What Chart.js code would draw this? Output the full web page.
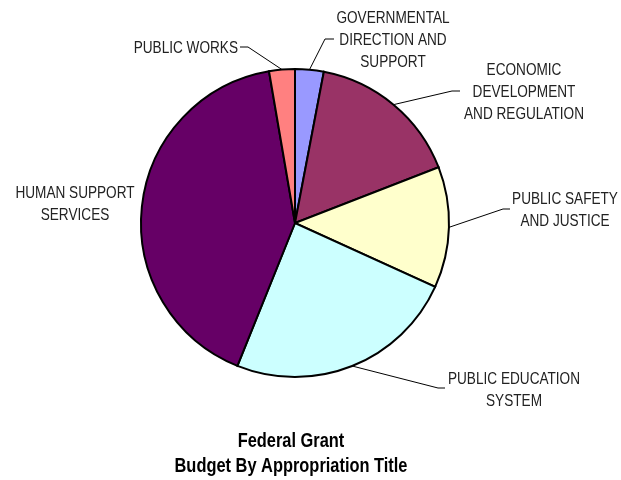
<!DOCTYPE html>
<html>
<head>
<meta charset="utf-8">
<title>Federal Grant Budget By Appropriation Title</title>
<script src="https://cdn.jsdelivr.net/npm/chart.js@4/dist/chart.umd.min.js"></script>
<style>
  html, body { margin: 0; padding: 0; background: #ffffff; }
  #wrap { width: 621px; height: 480px; }
</style>
</head>
<body>
<div id="wrap"><canvas id="pie" width="621" height="480"></canvas></div>
<script>
// Appropriation titles (label lines) and their share of the federal grant budget (%)
const categories = [
  ['GOVERNMENTAL', 'DIRECTION AND', 'SUPPORT'],
  ['ECONOMIC', 'DEVELOPMENT', 'AND REGULATION'],
  ['PUBLIC SAFETY', 'AND JUSTICE'],
  ['PUBLIC EDUCATION', 'SYSTEM'],
  ['HUMAN SUPPORT', 'SERVICES'],
  ['PUBLIC WORKS']
];
const shares = [3.0, 16.1, 12.7, 24.3, 41.2, 2.7];
const sliceColors = ['#9999FF', '#993366', '#FFFFCC', '#CCFFFF', '#660066', '#FF8080'];
const titleLines = ['Federal Grant', 'Budget By Appropriation Title'];

const FONT = '"Liberation Sans", Arial, sans-serif';
const NARROW = 0.82;   // horizontal squeeze for a condensed sans look

// Where each label sits: text anchor x, first baseline, alignment,
// and the elbow / end of its leader line (null = no leader).
const labelPlacement = [
  { x: 393, y: 23,  align: 'center', elbow: [325, 39],  end: [334, 39] },
  { x: 524, y: 75,  align: 'center', elbow: [452, 91],  end: [460, 91] },
  { x: 565, y: 204, align: 'center', elbow: [503, 209], end: [510, 209] },
  { x: 514, y: 384, align: 'center', elbow: [438, 388], end: [445, 388] },
  { x: 75,  y: 198, align: 'center', elbow: null, end: null },
  { x: 238, y: 53,  align: 'right',  elbow: [248, 47],  end: [240, 47] }
];
const LINE_H = 22;

function narrowText(ctx, text, x, y) {
  ctx.save();
  ctx.translate(x, y);
  ctx.scale(NARROW, 1);
  ctx.fillText(text, 0, 0);
  ctx.restore();
}

const sliceLabels = {
  id: 'sliceLabels',
  afterDraw(chart) {
    const ctx = chart.ctx;
    const arcs = chart.getDatasetMeta(0).data;
    ctx.save();
    ctx.font = '16.6px ' + FONT;
    ctx.fillStyle = '#222222';
    ctx.strokeStyle = '#000000';
    ctx.lineWidth = 1;
    arcs.forEach((arc, i) => {
      const p = labelPlacement[i];
      const { x, y, startAngle, endAngle, outerRadius } = arc.getProps(['x', 'y', 'startAngle', 'endAngle', 'outerRadius'], true);
      if (p.elbow) {
        const mid = (startAngle + endAngle) / 2;
        const sx = x + Math.cos(mid) * outerRadius;
        const sy = y + Math.sin(mid) * outerRadius;
        ctx.beginPath();
        ctx.moveTo(sx, sy);
        ctx.lineTo(p.elbow[0], p.elbow[1]);
        ctx.lineTo(p.end[0], p.end[1]);
        ctx.stroke();
      }
      ctx.textAlign = p.align;
      ctx.textBaseline = 'alphabetic';
      categories[i].forEach((line, k) => {
        narrowText(ctx, line, p.x, p.y + k * LINE_H);
      });
    });
    // chart title under the pie
    ctx.font = 'bold 20px ' + FONT;
    ctx.fillStyle = '#000000';
    ctx.textAlign = 'center';
    narrowText(ctx, titleLines[0], 291, 447);
    narrowText(ctx, titleLines[1], 291, 472);
    ctx.restore();
  }
};

new Chart(document.getElementById('pie'), {
  type: 'pie',
  data: {
    labels: categories.map(c => c.join(' ')),
    datasets: [{
      data: shares,
      backgroundColor: sliceColors,
      borderColor: '#000000',
      borderWidth: 2,
      borderJoinStyle: 'miter'
    }]
  },
  options: {
    responsive: false,
    animation: false,
    layout: { padding: { left: 140, right: 171, top: 68, bottom: 102 } },
    plugins: {
      legend: { display: false },
      tooltip: { enabled: false },
      title: { display: false }
    }
  },
  plugins: [sliceLabels]
});
</script>
</body>
</html>
